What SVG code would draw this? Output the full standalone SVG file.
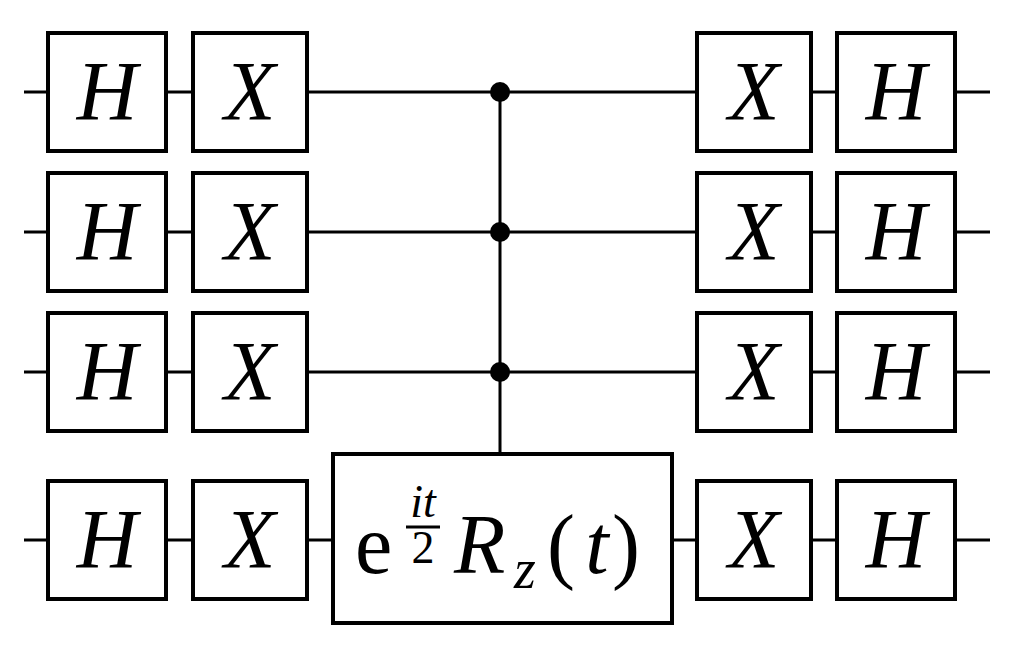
<svg xmlns="http://www.w3.org/2000/svg" width="1015" height="652" viewBox="0 0 1015 652">
<style>
.b{fill:#fff;stroke:#000;stroke-width:4}
.w{stroke:#000;stroke-width:3;fill:none}
.t{font-family:'Liberation Serif','Times New Roman',Tinos,'Nimbus Roman','DejaVu Serif',serif;font-style:italic;font-size:84px;text-anchor:middle}
.r{font-family:'Liberation Serif','Times New Roman',Tinos,'Nimbus Roman','DejaVu Serif',serif;font-size:84px}
</style>
<defs>
<g id="H"><rect class="b" x="-59" y="-59" width="118" height="118"/><text class="t" x="0" y="28">H</text></g>
<g id="X"><rect class="b" x="-57" y="-59" width="114" height="118"/><text class="t" x="0" y="28">X</text></g>
</defs>
<g id="wires">
<line class="w" x1="24" y1="92" x2="990" y2="92"/>
<line class="w" x1="24" y1="232" x2="990" y2="232"/>
<line class="w" x1="24" y1="372" x2="990" y2="372"/>
<line class="w" x1="24" y1="540" x2="990" y2="540"/>
<line class="w" x1="500" y1="92" x2="500" y2="454"/>
<circle cx="500" cy="92" r="10"/>
<circle cx="500" cy="232" r="10"/>
<circle cx="500" cy="372" r="10"/>
</g>
<g id="h1"><use href="#H" x="107" y="92"/></g>
<g id="h2"><use href="#H" x="107" y="232"/></g>
<g id="h3"><use href="#H" x="107" y="372"/></g>
<g id="h4"><use href="#H" x="107" y="540"/></g>
<g id="x1"><use href="#X" x="250" y="92"/></g>
<g id="x2"><use href="#X" x="250" y="232"/></g>
<g id="x3"><use href="#X" x="250" y="372"/></g>
<g id="x4"><use href="#X" x="250" y="540"/></g>
<g id="x5"><use href="#X" x="754" y="92"/></g>
<g id="x6"><use href="#X" x="754" y="232"/></g>
<g id="x7"><use href="#X" x="754" y="372"/></g>
<g id="x8"><use href="#X" x="754" y="540"/></g>
<g id="h5"><use href="#H" x="896" y="92"/></g>
<g id="h6"><use href="#H" x="896" y="232"/></g>
<g id="h7"><use href="#H" x="896" y="372"/></g>
<g id="h8"><use href="#H" x="896" y="540"/></g>
<g id="rz">
<rect class="b" x="333" y="454" width="339" height="169"/>
<text class="r" x="355" y="573">e</text>
<text class="t" x="423" y="517" style="font-size:46px">it</text>
<line x1="406" y1="527" x2="440" y2="527" stroke="#000" stroke-width="3"/>
<text class="r" x="423" y="563" style="font-size:46px;text-anchor:middle">2</text>
<text class="t" x="454" y="573" style="text-anchor:start">R</text>
<text class="t" x="525" y="588" style="font-size:56px">z</text>
<text class="r" x="547" y="573">(</text>
<text class="t" x="597" y="573">t</text>
<text class="r" x="612" y="573">)</text>
</g>
</svg>
